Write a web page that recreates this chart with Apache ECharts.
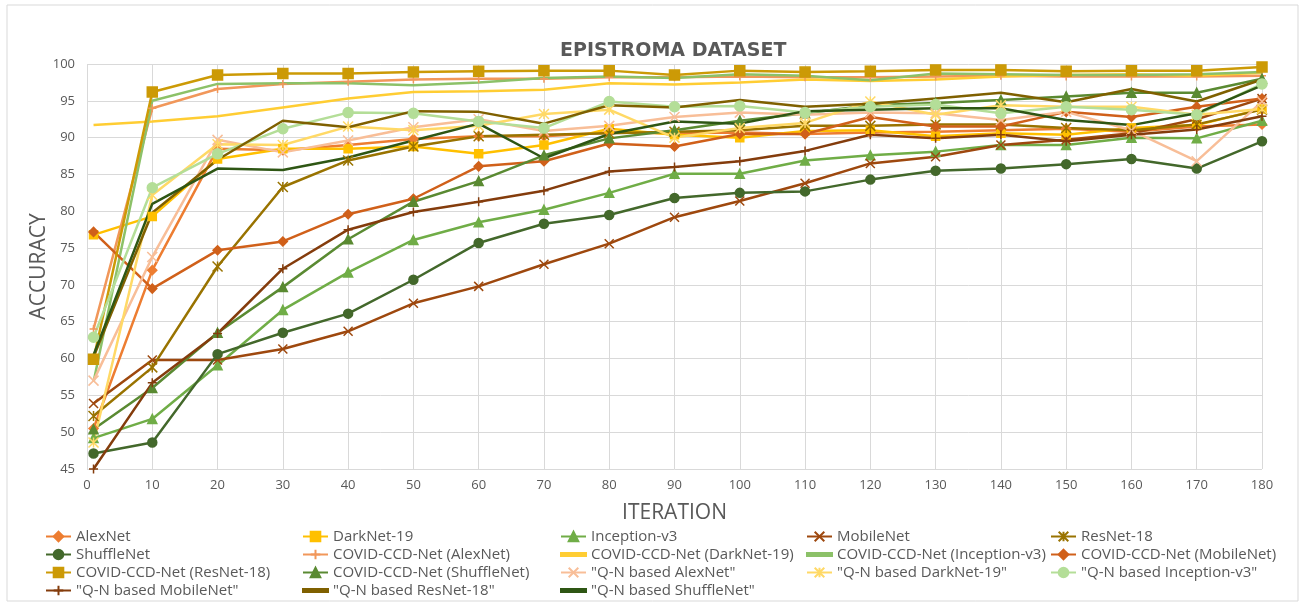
<!DOCTYPE html>
<html>
<head>
<meta charset="utf-8">
<script src="https://cdn.jsdelivr.net/npm/echarts@6/dist/echarts.min.js"></script>
<style>
html,body{margin:0;padding:0;background:#fff;}
#chart{width:1306px;height:608px;}
</style>
</head>
<body>
<div id="chart"></div>
<script>
const iterations = [1,10,20,30,40,50,60,70,80,90,100,110,120,130,140,150,160,170,180];
const xTicks = [0,10,20,30,40,50,60,70,80,90,100,110,120,130,140,150,160,170,180];
const yTicks = [45,50,55,60,65,70,75,80,85,90,95,100];

const alexNet        = [50.5,72.0,88.5,88.3,89.0,89.8,90.2,90.2,90.7,90.6,90.7,90.5,90.7,90.8,91.0,91.2,90.8,91.5,91.8];
const darkNet19      = [76.8,79.3,87.1,88.5,88.5,88.8,87.8,89.0,91.2,90.4,90.0,90.9,91.0,90.2,90.6,90.4,91.3,91.7,93.9];
const inceptionV3    = [49.2,51.8,59.1,66.6,71.7,76.1,78.5,80.2,82.5,85.1,85.1,86.9,87.6,88.1,89.0,89.0,90.0,89.9,92.3];
const mobileNet      = [53.9,59.8,59.8,61.3,63.7,67.5,69.8,72.8,75.6,79.2,81.4,83.8,86.5,87.4,89.0,89.7,90.6,92.5,95.3];
const resNet18       = [52.2,58.8,72.5,83.3,86.9,88.8,90.2,90.4,90.6,90.8,91.0,91.6,91.6,91.8,91.8,91.3,91.0,91.8,93.8];
const shuffleNet     = [47.1,48.6,60.6,63.5,66.1,70.7,75.7,78.3,79.5,81.8,82.5,82.7,84.3,85.5,85.8,86.4,87.1,85.8,89.5];
const ccdAlexNet     = [64.0,94.0,96.6,97.3,97.6,97.9,98.0,98.0,98.2,98.2,98.3,98.2,98.2,98.3,98.4,98.3,98.3,98.3,98.4];
const ccdDarkNet19   = [91.7,92.2,92.9,94.1,95.3,96.2,96.3,96.5,97.4,97.2,97.5,97.9,97.7,97.9,98.3,98.5,98.6,98.4,98.8];
const ccdInceptionV3 = [56.8,95.0,97.3,97.4,97.4,97.1,97.5,98.1,98.3,98.1,98.6,98.4,97.8,98.7,98.6,98.5,98.5,98.6,98.9];
const ccdMobileNet   = [77.2,69.5,74.7,75.9,79.6,81.7,86.1,86.8,89.2,88.8,90.5,90.5,92.8,91.5,91.5,93.5,92.8,94.2,95.3];
const ccdResNet18    = [59.9,96.2,98.5,98.7,98.7,98.9,99.0,99.1,99.1,98.5,99.1,98.9,99.0,99.2,99.2,99.0,99.1,99.1,99.6];
const ccdShuffleNet  = [50.4,56.0,63.5,69.7,76.2,81.3,84.1,87.6,89.9,91.0,92.3,93.3,94.4,94.7,95.1,95.6,96.1,96.1,98.0];
const qnAlexNet      = [57.0,73.8,89.7,88.0,89.6,91.4,92.5,90.9,91.6,92.8,93.4,93.1,93.4,93.3,92.4,93.5,91.0,86.8,94.9];
const qnDarkNet19    = [48.6,82.2,89.1,89.0,91.5,91.0,91.6,93.2,93.8,90.0,91.3,92.0,94.9,93.1,94.4,94.2,94.2,93.1,93.9];
const qnInceptionV3  = [62.9,83.2,87.8,91.2,93.4,93.3,92.2,91.3,94.9,94.2,94.3,93.4,94.2,94.5,93.3,94.2,93.8,93.1,97.3];
const qnMobileNet    = [45.0,56.7,63.4,72.2,77.5,79.9,81.3,82.8,85.4,86.0,86.8,88.2,90.4,89.9,90.4,89.5,90.4,91.1,92.9];
const qnResNet18     = [60.2,79.8,87.0,92.3,91.4,93.6,93.5,91.9,94.4,94.1,95.1,94.2,94.6,95.3,96.1,94.8,96.6,94.9,97.9];
const qnShuffleNet   = [60.5,81.0,85.8,85.6,87.3,89.6,91.9,87.2,90.5,92.2,91.9,93.6,93.8,94.0,94.0,92.4,91.7,93.3,97.1];

const seriesNames = ['AlexNet','DarkNet-19','Inception-v3','MobileNet','ResNet-18','ShuffleNet',
  'COVID-CCD-Net (AlexNet)','COVID-CCD-Net (DarkNet-19)','COVID-CCD-Net (Inception-v3)','COVID-CCD-Net (MobileNet)','COVID-CCD-Net (ResNet-18)','COVID-CCD-Net (ShuffleNet)',
  '"Q-N based AlexNet"','"Q-N based DarkNet-19"','"Q-N based Inception-v3"','"Q-N based MobileNet"','"Q-N based ResNet-18"','"Q-N based ShuffleNet"'];
const seriesValues = [alexNet,darkNet19,inceptionV3,mobileNet,resNet18,shuffleNet,
  ccdAlexNet,ccdDarkNet19,ccdInceptionV3,ccdMobileNet,ccdResNet18,ccdShuffleNet,
  qnAlexNet,qnDarkNet19,qnInceptionV3,qnMobileNet,qnResNet18,qnShuffleNet];

const X_PATH = 'path://M0,0L10,10M10,0L0,10';
const PLUS_PATH = 'path://M5,0L5,10M0,5L10,5';
const STAR_PATH = 'path://M5,0L5,10M0,0L10,10M10,0L0,10';

const styles = [
  {c:'#ED7D31', s:'diamond', z:9},
  {c:'#FFC000', s:'rect', z:8},
  {c:'#70AD47', s:'triangle', z:9},
  {c:'#9E480E', s:X_PATH, z:9},
  {c:'#997300', s:STAR_PATH, z:10},
  {c:'#43682B', s:'circle', z:9},
  {c:'#F1975A', s:PLUS_PATH, z:8},
  {c:'#FFCD33', s:'none', z:0},
  {c:'#8CC168', s:'none', z:0},
  {c:'#D0601A', s:'diamond', z:9},
  {c:'#CC9A06', s:'rect', z:10},
  {c:'#5A8A32', s:'triangle', z:9},
  {c:'#F8BE98', s:X_PATH, z:10},
  {c:'#FFD966', s:STAR_PATH, z:10},
  {c:'#B4DE98', s:'circle', z:10},
  {c:'#843C0C', s:PLUS_PATH, z:9},
  {c:'#7F6000', s:'none', z:0},
  {c:'#2E5614', s:'none', z:0}
];

const chart = echarts.init(document.getElementById('chart'), null, {renderer:'canvas'});

const series = seriesNames.map((name, i) => ({
  name: name,
  type: 'line',
  data: iterations.map((x, j) => [x, seriesValues[i][j]]),
  symbol: styles[i].s,
  symbolSize: styles[i].z,
  showSymbol: styles[i].s !== 'none',
  lineStyle: {color: styles[i].c, width: 2.5},
  itemStyle: {color: styles[i].c, borderColor: styles[i].c, borderWidth: 1.5},
  emphasis: {disabled: true},
  animation: false
}));

const colLeft = [45, 302, 560, 806, 1050];
const rowMid = [537, 555, 573, 591];
const legends = seriesNames.map((name, i) => {
  const plain = styles[i].s === 'none';
  const h = plain ? 3 : 12;
  return {
    data: plain ? [{name: name, icon: 'rect'}] : [name],
    left: colLeft[i % 5],
    top: rowMid[Math.floor(i / 5)] - 8,
    padding: 0,
    itemWidth: 25,
    itemHeight: h,
    itemGap: 5,
    selectedMode: false,
    textStyle: {color: '#595959', fontSize: 15, fontFamily: 'Open Sans'}
  };
});

chart.setOption({
  animation: false,
  backgroundColor: '#ffffff',
  title: {
    text: 'EPISTROMA DATASET',
    left: 555,
    top: 37,
    textStyle: {color: '#595959', fontSize: 19, fontWeight: 'bold', fontFamily: 'DejaVu Sans'}
  },
  graphic: [{
    type: 'rect', shape: {x: 7, y: 5, width: 1291, height: 596},
    style: {fill: 'none', stroke: '#D9D9D9', lineWidth: 1}, silent: true
  }],
  legend: legends,
  grid: {left: 87, right: 44, top: 64, bottom: 139},
  xAxis: {
    type: 'value', min: xTicks[0], max: xTicks[xTicks.length - 1], interval: 10,
    name: 'ITERATION', nameLocation: 'middle', nameGap: 34,
    nameTextStyle: {color: '#595959', fontSize: 21, fontFamily: 'Open Sans'},
    axisLine: {show: false}, axisTick: {show: false},
    axisLabel: {color: '#595959', fontSize: 13, margin: 10, fontFamily: 'Open Sans'},
    splitLine: {show: true, lineStyle: {color: '#D9D9D9', width: 1}}
  },
  yAxis: {
    type: 'value', min: yTicks[0], max: yTicks[yTicks.length - 1], interval: 5,
    name: 'ACCURACY', nameLocation: 'middle', nameGap: 37, nameMoveOverlap: false,
    nameTextStyle: {color: '#595959', fontSize: 21, fontFamily: 'Open Sans'},
    axisLine: {show: false}, axisTick: {show: false},
    axisLabel: {color: '#595959', fontSize: 13, margin: 12, fontFamily: 'Open Sans'},
    splitLine: {show: true, lineStyle: {color: '#D9D9D9', width: 1}}
  },
  series: series
});
</script>
</body>
</html>
